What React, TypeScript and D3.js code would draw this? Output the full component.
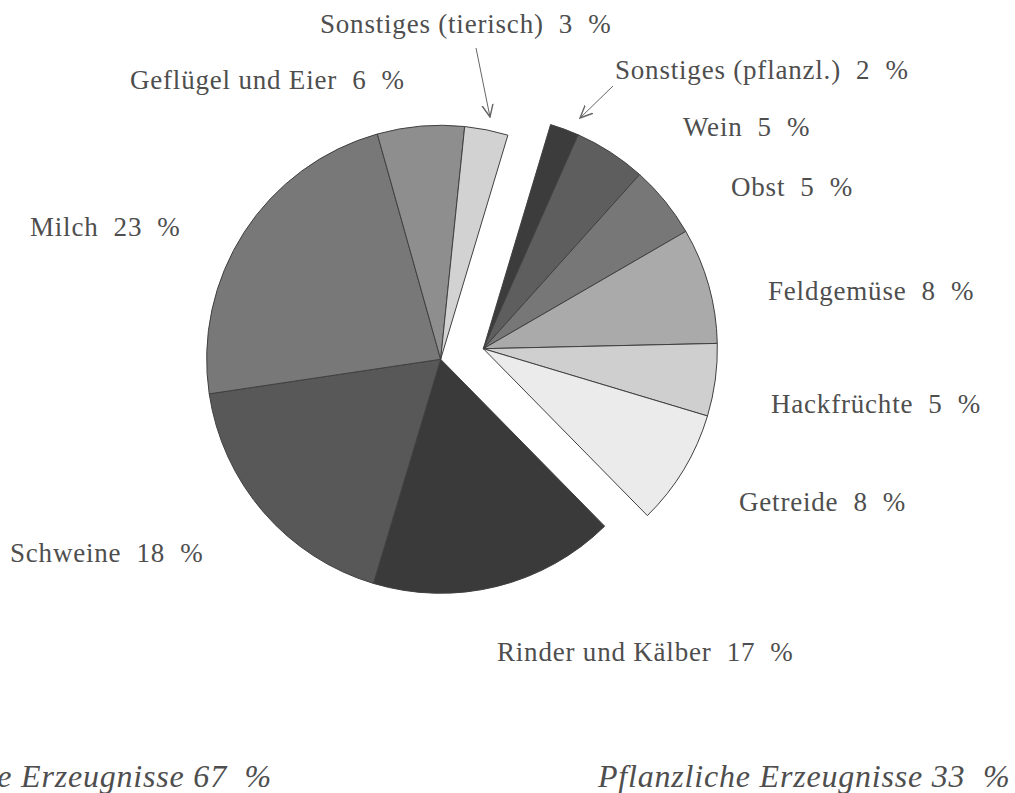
import React from 'react';
import * as d3 from 'd3';

// data (percent of total)
const categories = [
  'Rinder und Kälber',
  'Schweine',
  'Milch',
  'Geflügel und Eier',
  'Sonstiges (tierisch)',
  'Sonstiges (pflanzl.)',
  'Wein',
  'Obst',
  'Feldgemüse',
  'Hackfrüchte',
  'Getreide',
];
const shares = [17, 18, 23, 6, 3, 2, 5, 5, 8, 5, 8];
const groups = ['tier', 'tier', 'tier', 'tier', 'tier', 'pflanz', 'pflanz', 'pflanz', 'pflanz', 'pflanz', 'pflanz'];
const groupNames = ['Tierische Erzeugnisse', 'Pflanzliche Erzeugnisse'];
const groupShares = [67, 33];

const fills = ['#3a3a3a', '#585858', '#787878', '#8e8e8e', '#d2d2d2', '#3c3c3c', '#5e5e5e', '#777777', '#aaaaaa', '#cfcfcf', '#ebebeb'];

// layout
const width = 1015;
const height = 793;
const cx = 462;
const cy = 354;
const radius = 234;
const explode = 22;
const textColor = '#4e4e4e';

// label anchors (left x, baseline y) in slice order
const labelPos = [
  [497, 661], [10, 562], [30, 236], [130, 89], [320, 33],
  [615, 79], [683, 136], [731, 196], [768, 300], [771, 413], [739, 511],
];

const App = () => {
  const toRad = (deg: number) => deg * Math.PI / 180;
  const start = 135.5;

  const pie = d3.pie<number>()
    .sort(null)
    .value(d => d)
    .startAngle(toRad(start))
    .endAngle(toRad(start + 360));
  const arcs = pie(shares);

  const arc = d3.arc<d3.PieArcDatum<number>>()
    .innerRadius(0)
    .outerRadius(radius);

  // each group is pushed out along its own mid angle
  const offsets: Record<string, [number, number]> = {};
  ['tier', 'pflanz'].forEach(g => {
    const ga = arcs.filter((a, i) => groups[i] === g);
    const mid = (d3.min(ga, a => a.startAngle)! + d3.max(ga, a => a.endAngle)!) / 2;
    offsets[g] = [Math.sin(mid) * explode, -Math.cos(mid) * explode];
  });

  const fontFamily = '"Liberation Serif", "Times New Roman", serif';

  return (
    <svg width={width} height={height} style={{ position: 'absolute', left: 0, top: 0, background: '#fff' }}>
      <defs>
        <marker id="arrow" viewBox="0 0 10 10" refX="9" refY="5" markerWidth="14" markerHeight="14" orient="auto" markerUnits="userSpaceOnUse">
          <polyline points="0,1 9,5 0,9" fill="none" stroke="#666" strokeWidth={1} />
        </marker>
      </defs>

      {arcs.map((a, i) => {
        const [dx, dy] = offsets[groups[i]];
        return (
          <path
            key={categories[i]}
            d={arc(a) || ''}
            transform={`translate(${cx + dx},${cy + dy})`}
            fill={fills[i]}
            stroke="#404040"
            strokeWidth={1}
            strokeLinejoin="round"
          />
        );
      })}

      {categories.map((c, i) => (
        <text
          key={'l' + c}
          x={labelPos[i][0]}
          y={labelPos[i][1]}
          fontFamily={fontFamily}
          fontSize={27}
          letterSpacing={0.8}
          fill={textColor}
          style={{ whiteSpace: 'pre' }}
        >
          {`${c}  ${shares[i]}  %`}
        </text>
      ))}

      {/* arrows for the two small slices */}
      <line x1={476} y1={48} x2={490} y2={117} stroke="#666" strokeWidth={1} markerEnd="url(#arrow)" />
      <line x1={613} y1={86} x2={580} y2={118} stroke="#666" strokeWidth={1} markerEnd="url(#arrow)" />

      <text x={272} y={787} textAnchor="end" fontFamily={fontFamily} fontStyle="italic" fontSize={32} letterSpacing={0.8} fill={textColor} style={{ whiteSpace: 'pre' }}>
        {`${groupNames[0]} ${groupShares[0]}  %`}
      </text>
      <text x={598} y={787} fontFamily={fontFamily} fontStyle="italic" fontSize={32} letterSpacing={0.8} fill={textColor} style={{ whiteSpace: 'pre' }}>
        {`${groupNames[1]} ${groupShares[1]}  %`}
      </text>
    </svg>
  );
};

export default App;
